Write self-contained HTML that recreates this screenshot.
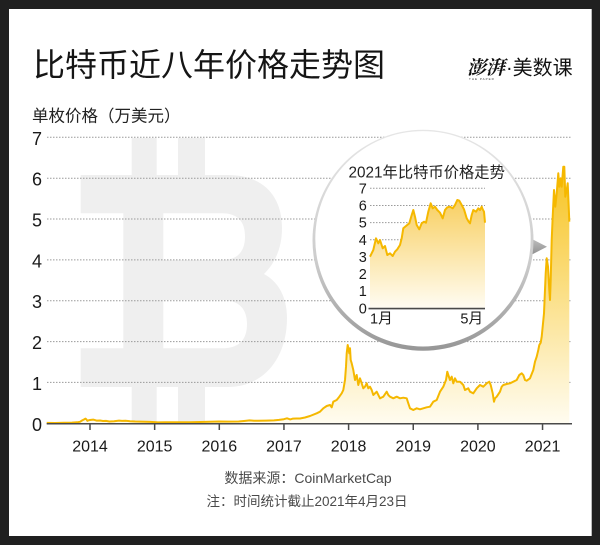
<!DOCTYPE html>
<html><head><meta charset="utf-8"><style>
html,body{margin:0;padding:0;background:#202020;}
body{width:600px;height:545px;overflow:hidden;position:relative;}
svg{position:absolute;left:0;top:0;}
.cj{font-family:"Liberation Sans","Noto Sans CJK SC",sans-serif;}
.num{font-family:"Liberation Sans Narrow","Liberation Sans",sans-serif;}
</style></head><body>
<svg width="600" height="545" viewBox="0 0 600 545" xmlns="http://www.w3.org/2000/svg">
<defs>
<linearGradient id="gm" gradientUnits="userSpaceOnUse" x1="0" y1="166" x2="0" y2="423">
<stop offset="0" stop-color="#f7c31f"/><stop offset="1" stop-color="#fffcf0"/>
</linearGradient>
<linearGradient id="gi" gradientUnits="userSpaceOnUse" x1="0" y1="199" x2="0" y2="308">
<stop offset="0" stop-color="#f8cf60"/><stop offset="1" stop-color="#fffcf2"/>
</linearGradient>
<linearGradient id="ring" x1="0" y1="0" x2="0" y2="1">
<stop offset="0" stop-color="#e6e6e6"/><stop offset="0.6" stop-color="#cccccc"/><stop offset="1" stop-color="#969696"/>
</linearGradient>
<linearGradient id="ptr" x1="0" y1="0" x2="0" y2="1">
<stop offset="0" stop-color="#c0c0c0"/><stop offset="1" stop-color="#8e8e8e"/>
</linearGradient>
</defs>
<rect x="0" y="0" width="600" height="545" fill="#202020"/>
<rect x="9" y="9" width="582.7" height="527" fill="#ffffff"/>

<!-- title -->
<text x="33" y="75.8" class="cj" font-size="32" font-weight="400" fill="#151515">比特币近八年价格走势图</text>
<!-- logo -->
<text x="467" y="74" font-family="'Noto Serif CJK SC','WenQuanYi Zen Hei',serif" font-size="19" font-weight="700" fill="#111" font-style="italic">澎湃</text>
<text x="469" y="80" font-family="'Liberation Sans',sans-serif" font-size="3" fill="#333" letter-spacing="1">THE PAPER</text>
<text x="506" y="74.4" class="cj" font-size="20" fill="#111">·美数课</text>

<text x="32" y="121.6" class="cj" font-size="16.5" fill="#222">单枚价格（万美元）</text>

<!-- watermark -->
<g fill="#efefef">
<rect x="131.7" y="138" width="25" height="38"/>
<rect x="178" y="138" width="27" height="38"/>
<rect x="131.7" y="386" width="25" height="37"/>
<rect x="178" y="386" width="27" height="37"/>
<path fill-rule="evenodd" d="M80.7,175 L228,175 C262,175 282,195 282,228 C282,252 272,266 264,274 C279,282 287,298 287,318 C287,360 262,387 228,387 L80.7,387 L80.7,348.3 L123.3,348.3 L123.3,213.3 L80.7,213.3 Z M163.3,213.3 L222,213.3 C238,213.3 245,222 245,236.5 C245,251 238,260 222,260 L163.3,260 Z M163.3,300 L222,300 C240,300 247,310 247,324 C247,339 240,348.3 222,348.3 L163.3,348.3 Z"/>
</g>

<!-- gridlines -->
<g stroke="#9a9a9a" stroke-width="1" stroke-dasharray="1.5,1.5" fill="none">
<line x1="47" y1="137.3" x2="572" y2="137.3"/>
<line x1="47" y1="178.2" x2="572" y2="178.2"/>
<line x1="47" y1="219" x2="572" y2="219"/>
<line x1="47" y1="259.9" x2="572" y2="259.9"/>
<line x1="47" y1="300.7" x2="572" y2="300.7"/>
<line x1="47" y1="341.6" x2="572" y2="341.6"/>
<line x1="47" y1="382.4" x2="572" y2="382.4"/>
</g>
<g class="num" font-size="18" fill="#1a1a1a">
<text x="32" y="144.8">7</text>
<text x="32" y="185.7">6</text>
<text x="32" y="226.5">5</text>
<text x="32" y="267.4">4</text>
<text x="32" y="308.2">3</text>
<text x="32" y="349.1">2</text>
<text x="32" y="389.9">1</text>
<text x="32" y="431">0</text>
</g>

<!-- main series -->
<path fill="url(#gm)" d="M46.7,422.9 L55,423 L64,422.8 L72,422.6 L77,422.3 L80,421.8 L82.2,420.4 L84,419.5 L85.5,418.6 L86.5,419.6 L87.4,420.8 L88.5,420.3 L90,420 L93.2,419.6 L96.5,420.6 L100,420.5 L103,421 L106,420.9 L109.4,421.5 L114,421.2 L119,420.6 L122,420.9 L125.5,420.8 L130,421.2 L135.2,421.5 L140,421.6 L145,421.8 L150,421.9 L154.6,422.1 L157.9,422.4 L165,422.3 L174,422.3 L182,422.2 L190,422.2 L200,422 L209.5,421.8 L219.2,421.5 L228,421.6 L238.6,421.5 L244,421 L249.6,420.4 L254,420.8 L258,420.8 L266,420.6 L274,420.4 L279,419.9 L283.8,419.2 L287,418.3 L290.3,419.4 L293,418.6 L296.7,418.5 L300,418.5 L305,417.5 L310,416 L316.7,413.3 L320,411.7 L323.3,408.3 L326.7,406 L330,405 L331.7,407.3 L333.3,401.7 L336.7,400 L339.3,396.7 L341.7,393.3 L343.3,390 L345,380 L346,366.7 L346.7,353.3 L347.7,345 L348.7,350 L349.3,353.3 L350,348.3 L350.7,360 L351.7,363.3 L353.3,370 L355,380 L356.7,375 L358.3,385 L360,378.3 L361.7,383.3 L363.3,388.3 L365,386.7 L366.7,383.3 L368.3,388.3 L370,386.7 L371.7,390 L373.3,395 L376.7,391.7 L380,398.3 L383.3,396.7 L386.7,391.7 L388.3,395 L390,396.7 L393.3,398.3 L396.7,396.7 L400,398.3 L403.3,397.7 L406.7,398.3 L408.3,403.3 L410,408.3 L413.3,410 L416.7,408.3 L420,409.3 L423.3,408.3 L426.7,407.3 L430,406.7 L433.3,401.7 L436.7,400 L440,391.7 L443.3,386.7 L446,380 L447.3,371.7 L448.3,375 L450,380 L451.7,376.7 L453.3,383.3 L455,378.3 L456.7,381.7 L460,381.7 L463.3,385 L465,390 L468.3,388.3 L470,391.7 L473.3,393.3 L476.7,388.3 L480,385 L483.3,386.7 L486.7,383.3 L489.3,381.7 L490.7,385 L492.7,393.3 L494,401.7 L495,398.3 L496.7,396.7 L500,391.7 L501.7,386.7 L503.3,385 L506.7,384 L510,383.3 L513.3,381.7 L516.7,380 L519.3,375 L521.7,373.3 L523.3,375 L525,380 L526.7,380.7 L530,378.3 L533.3,370 L535,361.7 L536.7,356.7 L538.3,350 L539.3,345 L540.7,342.7 L541.7,336.7 L544,313.3 L545.7,273.3 L546.7,258.3 L548,266.7 L549.3,290 L550,300 L550.7,280 L551.7,240 L552.7,216.7 L554,190 L555.3,206.7 L556.7,193.3 L558.3,173.3 L559.3,186.7 L560.7,178.3 L561.7,186.7 L563.3,166.7 L564.3,166.7 L565.3,196.7 L566.7,190 L567.7,183.3 L568.7,206.7 L569.3,221.7 L569.3,423.3 L46.7,423.3 Z"/>
<path fill="none" stroke="#f5b800" stroke-width="2" stroke-linejoin="round" d="M46.7,422.9 L55,423 L64,422.8 L72,422.6 L77,422.3 L80,421.8 L82.2,420.4 L84,419.5 L85.5,418.6 L86.5,419.6 L87.4,420.8 L88.5,420.3 L90,420 L93.2,419.6 L96.5,420.6 L100,420.5 L103,421 L106,420.9 L109.4,421.5 L114,421.2 L119,420.6 L122,420.9 L125.5,420.8 L130,421.2 L135.2,421.5 L140,421.6 L145,421.8 L150,421.9 L154.6,422.1 L157.9,422.4 L165,422.3 L174,422.3 L182,422.2 L190,422.2 L200,422 L209.5,421.8 L219.2,421.5 L228,421.6 L238.6,421.5 L244,421 L249.6,420.4 L254,420.8 L258,420.8 L266,420.6 L274,420.4 L279,419.9 L283.8,419.2 L287,418.3 L290.3,419.4 L293,418.6 L296.7,418.5 L300,418.5 L305,417.5 L310,416 L316.7,413.3 L320,411.7 L323.3,408.3 L326.7,406 L330,405 L331.7,407.3 L333.3,401.7 L336.7,400 L339.3,396.7 L341.7,393.3 L343.3,390 L345,380 L346,366.7 L346.7,353.3 L347.7,345 L348.7,350 L349.3,353.3 L350,348.3 L350.7,360 L351.7,363.3 L353.3,370 L355,380 L356.7,375 L358.3,385 L360,378.3 L361.7,383.3 L363.3,388.3 L365,386.7 L366.7,383.3 L368.3,388.3 L370,386.7 L371.7,390 L373.3,395 L376.7,391.7 L380,398.3 L383.3,396.7 L386.7,391.7 L388.3,395 L390,396.7 L393.3,398.3 L396.7,396.7 L400,398.3 L403.3,397.7 L406.7,398.3 L408.3,403.3 L410,408.3 L413.3,410 L416.7,408.3 L420,409.3 L423.3,408.3 L426.7,407.3 L430,406.7 L433.3,401.7 L436.7,400 L440,391.7 L443.3,386.7 L446,380 L447.3,371.7 L448.3,375 L450,380 L451.7,376.7 L453.3,383.3 L455,378.3 L456.7,381.7 L460,381.7 L463.3,385 L465,390 L468.3,388.3 L470,391.7 L473.3,393.3 L476.7,388.3 L480,385 L483.3,386.7 L486.7,383.3 L489.3,381.7 L490.7,385 L492.7,393.3 L494,401.7 L495,398.3 L496.7,396.7 L500,391.7 L501.7,386.7 L503.3,385 L506.7,384 L510,383.3 L513.3,381.7 L516.7,380 L519.3,375 L521.7,373.3 L523.3,375 L525,380 L526.7,380.7 L530,378.3 L533.3,370 L535,361.7 L536.7,356.7 L538.3,350 L539.3,345 L540.7,342.7 L541.7,336.7 L544,313.3 L545.7,273.3 L546.7,258.3 L548,266.7 L549.3,290 L550,300 L550.7,280 L551.7,240 L552.7,216.7 L554,190 L555.3,206.7 L556.7,193.3 L558.3,173.3 L559.3,186.7 L560.7,178.3 L561.7,186.7 L563.3,166.7 L564.3,166.7 L565.3,196.7 L566.7,190 L567.7,183.3 L568.7,206.7 L569.3,221.7"/>

<!-- axis -->
<g stroke="#4a4a4a" stroke-width="1.5">
<line x1="46.7" y1="423.8" x2="572" y2="423.8"/>
<line x1="90" y1="423.8" x2="90" y2="430"/>
<line x1="154.65" y1="423.8" x2="154.65" y2="430"/>
<line x1="219.3" y1="423.8" x2="219.3" y2="430"/>
<line x1="283.95" y1="423.8" x2="283.95" y2="430"/>
<line x1="348.6" y1="423.8" x2="348.6" y2="430"/>
<line x1="413.25" y1="423.8" x2="413.25" y2="430"/>
<line x1="477.9" y1="423.8" x2="477.9" y2="430"/>
<line x1="542.55" y1="423.8" x2="542.55" y2="430"/>
</g>
<g font-family="'Liberation Sans',sans-serif" font-size="16" fill="#1a1a1a" text-anchor="middle">
<text x="90" y="451.7">2014</text>
<text x="154.65" y="451.7">2015</text>
<text x="219.3" y="451.7">2016</text>
<text x="283.95" y="451.7">2017</text>
<text x="348.6" y="451.7">2018</text>
<text x="413.25" y="451.7">2019</text>
<text x="477.9" y="451.7">2020</text>
<text x="542.55" y="451.7">2021</text>
</g>

<text x="308" y="483" class="cj" font-size="14" fill="#4a4a4a" text-anchor="middle">数据来源：CoinMarketCap</text>
<text x="307" y="506" class="cj" font-size="13.5" fill="#4a4a4a" text-anchor="middle">注：时间统计截止2021年4月23日</text>

<!-- inset -->
<polygon points="531,238.5 547,246.7 531,255" fill="url(#ptr)"/>
<circle cx="423" cy="240.3" r="110.5" fill="url(#ring)"/>
<circle cx="423" cy="238.8" r="107.7" fill="#ffffff"/>

<text x="348.5" y="177.4" class="cj" font-size="15.3" fill="#222">2021年比特币价格走势</text>
<g stroke="#9a9a9a" stroke-width="1" stroke-dasharray="1.5,1.5" fill="none">
<line x1="370" y1="188.3" x2="485" y2="188.3"/>
<line x1="370" y1="205.5" x2="485" y2="205.5"/>
<line x1="370" y1="222.6" x2="485" y2="222.6"/>
<line x1="370" y1="239.7" x2="485" y2="239.7"/>
<line x1="370" y1="256.9" x2="485" y2="256.9"/>
<line x1="370" y1="274" x2="485" y2="274"/>
<line x1="370" y1="291.2" x2="485" y2="291.2"/>
</g>
<g class="num" font-size="14.5" fill="#1a1a1a" text-anchor="end">
<text x="366.8" y="193.4">7</text>
<text x="366.8" y="210.5">6</text>
<text x="366.8" y="227.6">5</text>
<text x="366.8" y="244.8">4</text>
<text x="366.8" y="261.9">3</text>
<text x="366.8" y="279.1">2</text>
<text x="366.8" y="296.2">1</text>
<text x="366.8" y="313.4">0</text>
</g>
<path fill="url(#gi)" d="M370,256.7 L373.3,250 L376,238.3 L378.3,243.3 L380,240 L382.7,248.3 L385,246 L387.3,255 L390,253.3 L392.7,256 L395,251.7 L397.3,249.3 L400,245 L401.7,238.3 L403.3,228.3 L406,226 L409.3,223.3 L411.7,215 L413.3,210 L415,216.7 L416.7,225 L419.3,229.3 L421.7,223.3 L424,221.7 L426,222.7 L428.3,211.7 L430.7,203.3 L432.7,208.3 L435,206.7 L437.3,210 L440,212.7 L442.7,218.3 L445,210 L447.3,207.3 L450,206.7 L452.7,208.3 L455,205 L457.3,200 L459.3,200.7 L461.7,205 L464,209.3 L466.7,218.3 L468.7,221.7 L470,223.3 L471.7,215 L473.3,210 L476,211.7 L478.3,208.3 L480,210 L481.7,206.7 L482.7,209.3 L484,211.7 L485,222.7 L485,308.3 L370,308.3 Z"/>
<path fill="none" stroke="#f5b800" stroke-width="2" stroke-linejoin="round" d="M370,256.7 L373.3,250 L376,238.3 L378.3,243.3 L380,240 L382.7,248.3 L385,246 L387.3,255 L390,253.3 L392.7,256 L395,251.7 L397.3,249.3 L400,245 L401.7,238.3 L403.3,228.3 L406,226 L409.3,223.3 L411.7,215 L413.3,210 L415,216.7 L416.7,225 L419.3,229.3 L421.7,223.3 L424,221.7 L426,222.7 L428.3,211.7 L430.7,203.3 L432.7,208.3 L435,206.7 L437.3,210 L440,212.7 L442.7,218.3 L445,210 L447.3,207.3 L450,206.7 L452.7,208.3 L455,205 L457.3,200 L459.3,200.7 L461.7,205 L464,209.3 L466.7,218.3 L468.7,221.7 L470,223.3 L471.7,215 L473.3,210 L476,211.7 L478.3,208.3 L480,210 L481.7,206.7 L482.7,209.3 L484,211.7 L485,222.7"/>
<line x1="368.5" y1="308.6" x2="485" y2="308.6" stroke="#4a4a4a" stroke-width="1.6"/>
<text x="370" y="323.5" class="cj" font-size="14.5" fill="#1a1a1a">1月</text>
<text x="483" y="323.5" class="cj" font-size="14.5" fill="#1a1a1a" text-anchor="end">5月</text>
</svg>
</body></html>
